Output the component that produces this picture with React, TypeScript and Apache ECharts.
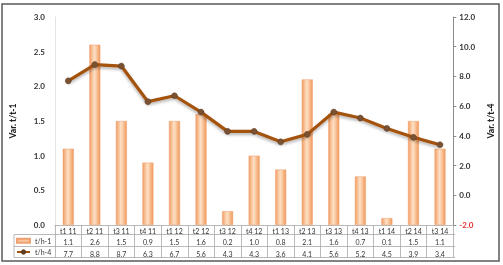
import React, { useEffect, useRef } from "react";
import * as echarts from "echarts";

const categories = ["t1 11", "t2 11", "t3 11", "t4 11", "t1 12", "t2 12", "t3 12", "t4 12", "t1 13", "t2 13", "t3 13", "t4 13", "t1 14", "t2 14", "t3 14"];
const seriesQ1 = [1.1, 2.6, 1.5, 0.9, 1.5, 1.6, 0.2, 1.0, 0.8, 2.1, 1.6, 0.7, 0.1, 1.5, 1.1];
const seriesQ4 = [7.7, 8.8, 8.7, 6.3, 6.7, 5.6, 4.3, 4.3, 3.6, 4.1, 5.6, 5.2, 4.5, 3.9, 3.4];
const nameQ1 = "t/h-1";
const nameQ4 = "t/h-4";
const leftAxisName = "Var. t/t-1";
const rightAxisName = "Var. t/t-4";

const FONT = "Lato, 'Liberation Sans', sans-serif";
const GRID_L = 52;
const GRID_R = 455;
const GRID_T = 17;
const GRID_B = 225;
const TABLE_GRAY = "#a8a8a8";

export default function App() {
  const ref = useRef<HTMLDivElement>(null);
  useEffect(() => {
    if (!ref.current) return;
    const chart = echarts.init(ref.current, undefined, { renderer: "svg" });
    const barGrad = new echarts.graphic.LinearGradient(0, 0, 1, 0, [
      { offset: 0, color: "#f29d62" },
      { offset: 0.45, color: "#fde0c6" },
      { offset: 0.6, color: "#fbd0aa" },
      { offset: 1, color: "#f0985c" },
    ]);
    const hLine = (y: number, x1: number) => ({
      type: "line",
      shape: { x1, y1: y, x2: GRID_R, y2: y },
      style: { stroke: TABLE_GRAY, lineWidth: 0.8 },
      silent: true,
    });
    chart.setOption({
      animation: false,
      textStyle: { fontFamily: FONT },
      grid: { left: GRID_L, right: 503 - GRID_R, top: GRID_T, bottom: 265 - GRID_B },
      legend: {
        orient: "vertical",
        left: 16,
        top: 236.7,
        padding: 0,
        itemWidth: 13,
        itemHeight: 4,
        itemGap: 3.3,
        textStyle: { fontSize: 7, color: "#333", fontFamily: FONT, lineHeight: 8 },
        data: [
          { name: nameQ1, icon: "rect", itemStyle: { color: "#f9c59c" } },
          { name: nameQ4 },
        ],
      },
      xAxis: [
        {
          type: "category",
          data: categories,
          boundaryGap: true,
          axisLine: { show: true, lineStyle: { color: TABLE_GRAY, width: 0.8 } },
          axisTick: { show: true, interval: 0, length: 32.5, lineStyle: { color: TABLE_GRAY, width: 0.8 } },
          axisLabel: { interval: 0, margin: 2, fontSize: 7, color: "#333", fontFamily: FONT },
        },
        {
          type: "category",
          data: categories,
          position: "bottom",
          offset: 11.5,
          axisLine: { show: false },
          axisTick: { show: false },
          axisLabel: {
            interval: 0,
            margin: 2,
            fontSize: 7,
            color: "#333",
            fontFamily: FONT,
            formatter: (_v: string, i: number) => seriesQ1[i].toFixed(1),
          },
        },
        {
          type: "category",
          data: categories,
          position: "bottom",
          offset: 23,
          axisLine: { show: false },
          axisTick: { show: false },
          axisLabel: {
            interval: 0,
            margin: 2,
            fontSize: 7,
            color: "#333",
            fontFamily: FONT,
            formatter: (_v: string, i: number) => seriesQ4[i].toFixed(1),
          },
        },
      ],
      yAxis: [
        {
          type: "value",
          min: 0,
          max: 3,
          interval: 0.5,
          position: "left",
          name: leftAxisName,
          nameLocation: "middle",
          nameRotate: 90,
          nameGap: 38,
          nameTextStyle: { fontSize: 8.5, fontWeight: 900, color: "#222", fontFamily: FONT },
          axisLine: { show: true, lineStyle: { color: "#e4e4e4", width: 1 } },
          axisTick: { show: false },
          splitLine: { show: false },
          axisLabel: {
            margin: 10,
            fontSize: 8,
            fontWeight: "bold",
            color: "#333",
            fontFamily: FONT,
            formatter: (v: number) => v.toFixed(1),
          },
        },
        {
          type: "value",
          min: -2,
          max: 12,
          interval: 2,
          position: "right",
          name: rightAxisName,
          nameLocation: "middle",
          nameRotate: 90,
          nameGap: 30,
          nameTextStyle: { fontSize: 8.5, fontWeight: 900, color: "#222", fontFamily: FONT },
          axisLine: { show: true, lineStyle: { color: "#8a8a8a", width: 1 } },
          axisTick: { show: true, length: 3, lineStyle: { color: "#8a8a8a" } },
          splitLine: { show: false },
          axisLabel: {
            margin: 6,
            fontSize: 8,
            fontWeight: "bold",
            fontFamily: FONT,
            color: (v: any) => (Number(v) < 0 ? "#e03030" : "#333"),
            formatter: (v: number) => v.toFixed(1),
          },
        },
      ],
      series: [
        {
          name: nameQ1,
          type: "bar",
          xAxisIndex: 0,
          yAxisIndex: 0,
          data: seriesQ1,
          barWidth: 11,
          itemStyle: { color: barGrad, borderColor: "#eea070", borderWidth: 0.5 },
        },
        {
          name: nameQ4,
          type: "line",
          xAxisIndex: 0,
          yAxisIndex: 1,
          data: seriesQ4,
          symbol: "circle",
          symbolSize: 6,
          lineStyle: {
            color: "#a4520f",
            width: 3.2,
            shadowColor: "rgba(0,0,0,0.3)",
            shadowBlur: 3,
            shadowOffsetY: 2,
          },
          itemStyle: { color: "#7a5232", borderColor: "#5a3a20", borderWidth: 0.5 },
        },
      ],
      graphic: [
        {
          type: "rect",
          shape: { x: 2, y: 4, width: 497, height: 257 },
          style: { fill: "none", stroke: "#5a5a5a", lineWidth: 1.5 },
          silent: true,
        },
        hLine(234.5, 14),
        hLine(246.5, 14),
        hLine(257.5, 14),
        {
          type: "line",
          shape: { x1: 14, y1: 234.5, x2: 14, y2: 257.5 },
          style: { stroke: TABLE_GRAY, lineWidth: 0.8 },
          silent: true,
        },
      ],
    });
    return () => chart.dispose();
  }, []);
  return <div ref={ref} style={{ position: "fixed", left: 0, top: 0, width: 503, height: 265 }} />;
}
